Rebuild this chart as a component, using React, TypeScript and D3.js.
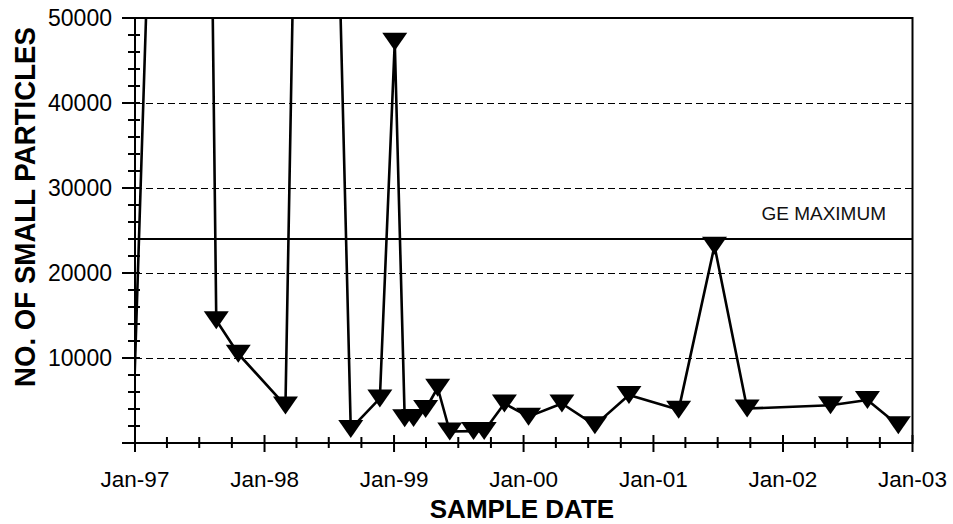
import React from "react";
import * as d3 from "d3";

// sample dates and particle counts
const sampleDates = [
  "1996-12-31", "1997-06-19", "1997-08-18", "1997-10-19", "1998-03-01",
  "1998-05-17", "1998-09-01", "1998-11-22", "1999-01-03", "1999-01-31",
  "1999-02-25", "1999-03-31", "1999-05-04", "1999-06-07", "1999-08-13",
  "1999-09-12", "1999-11-08", "2000-01-15", "2000-04-18", "2000-07-20",
  "2000-10-24", "2001-03-13", "2001-06-22", "2001-09-22", "2002-05-15",
  "2002-08-27", "2002-11-22",
];
const particleCounts = [
  8000, 231000, 14450, 10500, 4400,
  183000, 1650, 5240, 47200, 2900,
  2950, 4000, 6500, 1350, 1400,
  1400, 4650, 3100, 4650, 2100,
  5650, 3900, 23200, 4050, 4450,
  5050, 2100,
];

const yTickValues = [10000, 20000, 30000, 40000, 50000];
const xTickYears = [1997, 1998, 1999, 2000, 2001, 2002, 2003];
const geMaximum = 24000;

const width = 953;
const height = 524;
const left = 135;
const right = 912.5;
const top = 18;
const bottom = 443;
const font = "'Liberation Sans', Arial, sans-serif";

const App = () => {
  const parse = d3.utcParse("%Y-%m-%d");
  const data = sampleDates.map((d, i) => ({ date: parse(d), value: particleCounts[i] }));

  const xScale = d3
    .scaleUtc()
    .domain([new Date(Date.UTC(1997, 0, 1)), new Date(Date.UTC(2003, 0, 1))])
    .range([left, right]);
  const yScale = d3.scaleLinear().domain([0, 50000]).range([bottom, top]);

  const line = d3
    .line()
    .x((d) => xScale(d.date))
    .y((d) => yScale(d.value));

  const minorX = d3.utcMonth.every(3).range(xScale.domain()[0], d3.utcDay.offset(xScale.domain()[1], 1));
  const minorY = d3.range(0, 50001, 2000);

  const tri = (d) => {
    const cx = xScale(d.date);
    const cy = yScale(d.value);
    return `M${cx - 12.5},${cy - 9}L${cx + 12.5},${cy - 9}L${cx},${cy + 9}Z`;
  };
  // markers only for points inside the axis range
  const visible = data.filter(
    (d) => d.date >= xScale.domain()[0] && d.value <= 50000
  );

  return (
    <svg
      width={width}
      height={height}
      style={{ position: "absolute", left: 0, top: 0, background: "#fff" }}
    >
      <defs>
        <clipPath id="plot">
          <rect x={left} y={top} width={right - left} height={bottom - top} />
        </clipPath>
      </defs>
      <rect x={0} y={0} width={width} height={height} fill="#fff" />

      {/* dashed grid */}
      {yTickValues.slice(0, 4).map((v) => (
        <line
          key={"g" + v}
          x1={left}
          x2={right}
          y1={yScale(v) + 0.5}
          y2={yScale(v) + 0.5}
          stroke="#000"
          strokeWidth={1}
          strokeDasharray="7,4"
        />
      ))}

      {/* GE maximum */}
      <line
        x1={left}
        x2={right}
        y1={yScale(geMaximum)}
        y2={yScale(geMaximum)}
        stroke="#000"
        strokeWidth={2}
      />
      <text
        x={886}
        y={220}
        textAnchor="end"
        fontFamily={font}
        fontSize={19}
        fill="#111"
      >
        GE MAXIMUM
      </text>

      {/* data */}
      <g clipPath="url(#plot)">
        <path d={line(data)} fill="none" stroke="#000" strokeWidth={2.6} strokeLinejoin="round" />
        {visible.map((d, i) => (
          <path key={i} d={tri(d)} fill="#000" />
        ))}
      </g>

      {/* frame */}
      <rect
        x={left}
        y={top}
        width={right - left}
        height={bottom - top}
        fill="none"
        stroke="#000"
        strokeWidth={2}
      />

      {/* y ticks */}
      {minorY.map((v) => (
        <line
          key={"yt" + v}
          x1={v % 10000 === 0 ? 122 : 128}
          x2={140}
          y1={yScale(v)}
          y2={yScale(v)}
          stroke="#000"
          strokeWidth={2}
        />
      ))}
      {yTickValues.map((v) => (
        <text
          key={"yl" + v}
          x={112}
          y={yScale(v)}
          dy="0.36em"
          textAnchor="end"
          fontFamily={font}
          fontSize={23}
        >
          {v}
        </text>
      ))}

      {/* x ticks */}
      {minorX.map((d) => (
        <line
          key={"xt" + d.getTime()}
          x1={xScale(d)}
          x2={xScale(d)}
          y1={d.getUTCMonth() === 0 ? 435 : 437}
          y2={d.getUTCMonth() === 0 ? 452 : 448}
          stroke="#000"
          strokeWidth={2}
        />
      ))}
      {xTickYears.map((yr) => (
        <text
          key={"xl" + yr}
          x={xScale(new Date(Date.UTC(yr, 0, 1)))}
          y={487}
          textAnchor="middle"
          fontFamily={font}
          fontSize={22.5}
        >
          {d3.utcFormat("%b-%y")(new Date(Date.UTC(yr, 0, 1)))}
        </text>
      ))}

      {/* axis titles */}
      <text
        x={522}
        y={518}
        textAnchor="middle"
        fontFamily={font}
        fontWeight="bold"
        fontSize={26}
      >
        SAMPLE DATE
      </text>
      <text
        transform="translate(35,207) rotate(-90)"
        textAnchor="middle"
        fontFamily={font}
        fontWeight="bold"
        fontSize={29}
        textLength={360}
        lengthAdjust="spacingAndGlyphs"
      >
        NO. OF SMALL PARTICLES
      </text>
    </svg>
  );
};

export default App;
